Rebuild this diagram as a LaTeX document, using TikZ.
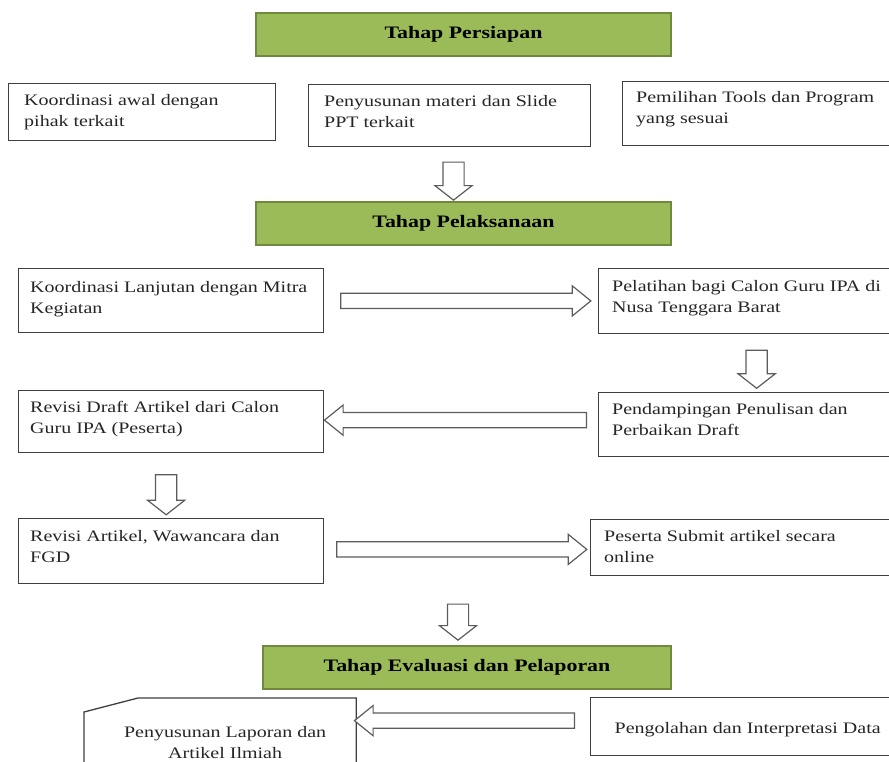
\documentclass[tikz,border=0pt]{standalone}
\usepackage{fontspec}
\setmainfont[FakeStretch=1.25]{Liberation Serif}
\usetikzlibrary{shapes.arrows,calc}

\definecolor{hijau}{HTML}{9BBB59}
\definecolor{hijaugaris}{HTML}{71893F}
\definecolor{garis}{HTML}{3F3F3F}

\tikzset{
  kotak/.style={draw=garis, line width=1.3pt, fill=white, anchor=north west, inner sep=0pt, minimum width=#1},
  isi/.style={anchor=north west, align=left, inner sep=0pt, text=black!85, font=\fontsize{16}{21}\selectfont},
  tahap/.style={draw=hijaugaris, line width=2pt, fill=hijau, anchor=north west, minimum height=43pt, minimum width=#1, font=\fontsize{17.5}{20}\selectfont\bfseries},
  panah/.style={single arrow, draw=garis!85, line width=1.2pt, fill=white, inner sep=7pt, single arrow head extend=7.5pt, single arrow tip angle=78, minimum height=#1},
  turun/.style={single arrow, draw=garis!85, line width=1.2pt, fill=white, inner sep=10pt, single arrow head extend=8pt, single arrow tip angle=104, shape border rotate=270, minimum height=#1},
}

\begin{document}
\begin{tikzpicture}[x=1pt, y=-1pt]
 \useasboundingbox (0,0) rectangle (889,762);
 \clip (0,0) rectangle (889,762);

 % tahap persiapan
 \node[tahap=415pt] (persiapan) at (255,12) {Tahap Persiapan};
 \node[kotak=267pt, minimum height=57pt] (koordawal) at (8,83) {};
 \node[kotak=282pt, minimum height=62pt] (materi) at (308,84) {};
 \node[kotak=290pt, minimum height=64pt] (tools) at (622,81) {};
 \node[isi] at ($(koordawal.north west)+(16,11)$) {Koordinasi awal dengan\\pihak terkait};
 \node[isi] at ($(materi.north west)+(16,11)$) {Penyusunan materi dan Slide\\PPT terkait};
 \node[isi] at ($(tools.north west)+(14,10)$) {Pemilihan Tools dan Program\\yang sesuai};

 % tahap pelaksanaan
 \node[tahap=415pt] (pelaksanaan) at (255,201) {Tahap Pelaksanaan};
 \node[kotak=305pt, minimum height=64pt] (lanjutan) at (18,268) {};
 \node[kotak=300pt, minimum height=65pt] (pelatihan) at (598,268) {};
 \node[kotak=305pt, minimum height=62pt] (revdraft) at (18,390) {};
 \node[kotak=300pt, minimum height=64pt] (dampingan) at (598,392) {};
 \node[kotak=305pt, minimum height=65pt] (revartikel) at (18,518) {};
 \node[kotak=310pt, minimum height=56pt] (submit) at (590,519) {};
 \node[isi] at ($(lanjutan.north west)+(12,13)$) {Koordinasi Lanjutan dengan Mitra\\Kegiatan};
 \node[isi] at ($(pelatihan.north west)+(14,12)$) {Pelatihan bagi Calon Guru IPA di\\Nusa Tenggara Barat};
 \node[isi] at ($(revdraft.north west)+(12,11)$) {Revisi Draft Artikel dari Calon\\Guru IPA (Peserta)};
 \node[isi] at ($(dampingan.north west)+(14,11)$) {Pendampingan Penulisan dan\\Perbaikan Draft};
 \node[isi] at ($(revartikel.north west)+(12,12)$) {Revisi Artikel, Wawancara dan\\FGD};
 \node[isi] at ($(submit.north west)+(14,11)$) {Peserta Submit artikel secara\\online};

 % tahap evaluasi dan pelaporan
 \node[tahap=408pt] (evaluasi) at (262,645) {Tahap Evaluasi dan Pelaporan};
 \node[kotak=271pt, minimum height=80pt, draw=none] (laporan) at (84,698) {};
 \draw[garis, line width=1.3pt] (laporan.south west) -- ($(laporan.north west)+(0,14)$)
   -- ($(laporan.north west)+(54,0)$) -- (laporan.north east) -- (laporan.south east);
 \node[kotak=310pt, minimum height=58pt] (olah) at (590,697) {};
 \node[isi, anchor=center, align=center] at ($(laporan.north)+(5,45)$) {Penyusunan Laporan dan\\Artikel Ilmiah};
 \node[isi, anchor=center] at ($(olah.center)+(2,3)$) {Pengolahan dan Interpretasi Data};

 % panah
 \node[turun=38pt] (p1) at ($(pelaksanaan.north)+(-10,-24)$) {};
 \node[panah=250pt] (p2) at ($(lanjutan.east)!0.5!(pelatihan.west)$) {};
 \node[turun=38pt] (p3) at ($(pelatihan.south)!0.5!(dampingan.north)+(8,2)$) {};
 \node[panah=262pt, shape border rotate=180] (p4) at ($(revdraft.east)!0.5!(dampingan.west)+(-1,-3)$) {};
 \node[turun=40pt] (p5) at ($(revdraft.south)!0.5!(revartikel.north)+(-5,5)$) {};
 \node[panah=250pt] (p6) at ($(revartikel.east)!0.5!(submit.west)$) {};
 \node[turun=36pt] (p7) at ($(evaluasi.north)+(-9,-27)$) {};
 \node[panah=220pt, shape border rotate=180] (p8) at ($(laporan.east)!0.5!(olah.west)+(-4,-12)$) {};
\end{tikzpicture}
\end{document}
